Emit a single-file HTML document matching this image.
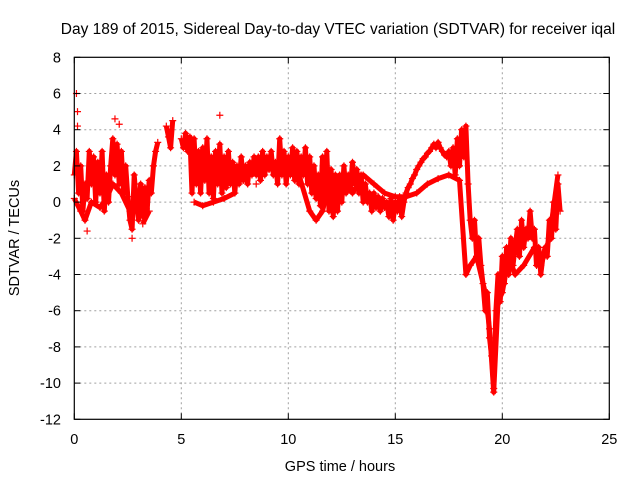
<!DOCTYPE html>
<html><head><meta charset="utf-8"><style>
html,body{margin:0;padding:0;background:#fff;}
svg{display:block;font-family:"Liberation Sans",sans-serif;}
</style></head><body>
<svg id="chart" width="640" height="480">
<rect width="640" height="480" fill="#fff"/>
<text x="338" y="34" font-size="15.5" text-anchor="middle" fill="#000">Day 189 of 2015, Sidereal Day-to-day VTEC variation (SDTVAR) for receiver iqal</text>
<text x="340" y="471" font-size="14.5" text-anchor="middle">GPS time / hours</text>
<text transform="translate(19,238) rotate(-90)" font-size="14.5" text-anchor="middle">SDTVAR / TECUs</text>
<g id="grid"></g><g id="series"></g><g id="axes"></g>
</svg>
<script>
const xTicks=[0,5,10,15,20,25];
const yTicks=[8,6,4,2,0,-2,-4,-6,-8,-10,-12];
const hoursA=[0.0,0.1,0.2,0.3,0.4,0.5,0.6,0.7,0.8,0.9,1.0,1.1,1.2,1.3,1.4,1.5,1.6,1.7,1.8,1.9,2.0,2.1,2.2,2.3,2.4,2.5,2.6,2.7,2.8,2.9,3.0,3.1,3.2,3.3,3.4,3.5,3.6,3.7,3.8,3.9,
4.3,4.4,4.5,4.6,
5.0,5.1,5.2,5.3,5.4,5.5,5.6,5.7,5.8,5.9,6.0,6.1,6.2,6.3,6.4,6.5,6.6,6.7,6.8,6.9,7.0,7.1,7.2,7.3,7.4,7.5,7.6,7.7,7.8,7.9,8.0,8.1,8.2,8.3,8.4,8.5,8.6,8.7,8.8,8.9,9.0,9.1,9.2,9.3,9.4,9.5,9.6,9.7,9.8,9.9,10.0,10.1,10.2,10.3,10.4,10.5,10.6,10.7,10.8,10.9,11.0,11.1,11.2,11.3,11.4,11.5,11.6,11.7,11.8,11.9,12.0,12.1,12.2,12.3,12.4,12.5,12.6,12.7,12.8,12.9,13.0,13.1,13.2,13.3,13.4,13.5,13.6,13.7,13.8,13.9,14.0,14.1,14.2,14.3,14.4,14.5,14.6,14.7,14.8,14.9,15.0,15.1,15.2,15.3,15.4,15.5,15.6,15.7,15.8,15.9,16.0,16.1,16.2,16.3,16.4,16.5,16.6,16.7,16.8,16.9,17.0,17.1,17.2,17.3,17.4,17.5,17.6,17.7,17.8,17.9,18.0,18.1,18.2,18.3,18.4,18.5,18.6,18.7,18.8,18.9,19.0,19.1,19.2,19.3,19.4,19.5,19.6,19.7,19.8,19.9,20.0,20.1,20.2,20.3,20.4,20.5,20.6,20.7,20.8,20.9,21.0,21.1,21.2,21.3,21.4,21.5,21.6,21.7,21.8,21.9,22.0,22.1,22.2,22.3,22.4,22.5,22.6,22.7];
const valuesA=[1.5,2.8,0.5,2.0,-0.5,1.0,0.2,2.8,1.0,2.5,0.0,2.2,0.5,2.8,-0.5,1.5,0.0,2.0,3.5,1.5,3.2,1.0,2.8,0.5,2.0,0.3,-1.0,-1.5,1.5,0.0,-1.0,1.0,-0.8,0.8,-0.5,1.2,0.5,2.0,2.8,3.3,
4.2,3.6,3.0,4.5,
3.5,3.0,3.8,2.8,3.6,0.5,3.5,1.0,2.8,0.5,3.0,1.2,3.5,0.5,2.5,0.2,2.8,1.0,3.2,0.5,2.5,0.8,2.8,1.0,2.2,0.5,2.0,1.0,2.5,1.2,2.0,1.0,2.2,1.5,2.5,1.5,2.5,1.2,2.8,1.5,2.5,1.8,2.8,1.5,2.2,1.0,3.5,1.5,2.8,1.0,2.5,1.5,3.0,1.2,2.8,1.0,2.5,1.5,3.0,1.0,2.5,0.5,2.0,0.2,1.5,-0.2,2.5,0.0,2.8,-0.5,1.8,-0.8,1.5,-0.5,1.5,0.0,2.0,0.5,1.5,0.8,2.2,1.0,1.8,0.5,1.5,0.0,1.0,0.0,0.5,-0.5,0.5,-0.3,0.3,-0.5,0.2,-0.3,0.0,-0.8,0.2,-1.0,0.0,-0.5,0.3,-0.8,0.0,0.5,0.8,1.0,1.3,1.5,1.8,2.0,2.2,2.4,2.5,2.7,2.8,3.0,3.2,3.0,3.3,3.0,2.8,2.6,2.5,2.8,2.0,3.0,1.5,3.5,2.0,4.0,2.5,4.2,1.0,-1.0,-2.0,-1.0,-3.0,-2.0,-3.5,-4.5,-6.0,-5.0,-7.5,-8.5,-10.3,-6.0,-4.0,-5.5,-3.0,-4.5,-2.5,-4.0,-2.0,-3.5,-2.5,-1.5,-3.0,-1.0,-2.5,-1.5,-2.0,-0.5,-2.0,-1.5,-3.5,-2.5,-4.0,-3.0,-2.5,-3.0,-1.0,-2.0,0.0,-1.5,1.0,-0.5];
const hoursB=[0.0,0.3,0.5,0.8,1.2,1.5,1.8,2.2,2.6,3.2,3.5,5.6,6.0,6.5,7.0,7.5,8.5,9.5,10.5,11.0,11.3,11.6,12.0,12.5,13.0,13.5,14.0,14.5,15.0,15.5,16.0,16.5,17.0,17.5,18.0,18.3,18.5,18.8,19.2,19.4,19.6,19.8,20.0,20.3,20.6,21.0,21.5,21.8,22.2,22.6];
const valuesB=[0.2,-0.5,-1.0,0.0,-0.3,0.2,1.0,0.5,-0.5,-1.2,-0.5,0.0,-0.2,0.0,0.2,0.5,1.0,1.5,1.5,-0.5,-1.0,-0.5,1.5,1.2,0.5,1.5,1.0,0.5,0.3,0.3,0.5,1.0,1.3,1.5,1.2,-4.0,-3.5,-3.0,-5.0,-7.0,-10.5,-5.5,-5.0,-3.0,-4.0,-3.5,-2.5,-3.5,-2.0,1.5];
const hoursC=[0.1,0.15,0.15,6.8,0.6,2.7,1.9,2.1];
const valuesC=[6.0,5.0,4.2,4.8,-1.6,-2.0,4.6,4.3];

const X0=74.3,X1=609.3,Y0=57.3,Y1=419.3;
const xs=v=>X0+(v-0)/25*(X1-X0);
const ys=v=>Y0+(8-v)/20*(Y1-Y0);
const NS="http://www.w3.org/2000/svg";
function mk(tag,attrs,parent){const e=document.createElementNS(NS,tag);for(const k in attrs)e.setAttribute(k,attrs[k]);parent.appendChild(e);return e;}
const grid=document.getElementById('grid'),axes=document.getElementById('axes'),ser=document.getElementById('series');
xTicks.forEach(t=>{
 const x=xs(t);
 if(t>0&&t<25){const g=mk('line',{x1:x,x2:x,y1:Y0,y2:Y1,stroke:'#a0a0a0','stroke-dasharray':'2,3'},grid);
 
 }
 mk('line',{x1:x,x2:x,y1:Y1,y2:Y1-6,stroke:'#000'},axes);
 mk('line',{x1:x,x2:x,y1:Y0,y2:Y0+6,stroke:'#000'},axes);
 const l=mk('text',{x:x,y:444,'font-size':14.5,'text-anchor':'middle'},axes);l.textContent=t;
 
 
});
yTicks.forEach(t=>{
 const y=ys(t);
 if(t<8&&t>-12){const g=mk('line',{x1:X0,x2:X1,y1:y,y2:y,stroke:'#a0a0a0','stroke-dasharray':'2,3'},grid);
 
 }
 mk('line',{x1:X0,x2:X0+6,y1:y,y2:y,stroke:'#000'},axes);
 mk('line',{x1:X1,x2:X1-6,y1:y,y2:y,stroke:'#000'},axes);
 const l=mk('text',{x:61,y:y+5,'font-size':14.5,'text-anchor':'end'},axes);l.textContent=t;
 
 
});
const fr=mk('rect',{x:X0,y:Y0,width:X1-X0,height:Y1-Y0,fill:'none',stroke:'#000','stroke-width':1.2},axes);


function drawSeries(hs,vs,name,lineW,gap){
 if(lineW){let d='';for(let i=0;i<hs.length;i++){const cmd=(i===0||hs[i]-hs[i-1]>gap)?'M':'L';d+=cmd+xs(hs[i]).toFixed(1)+','+ys(vs[i]).toFixed(1);}
 const p=mk('path',{d:d,fill:'none',stroke:'#ff0000','stroke-width':lineW,'stroke-linejoin':'round'},ser);
 
 }
 for(let i=0;i<hs.length;i++){const x=xs(hs[i]),y=ys(vs[i]);
 const m=mk('path',{d:`M${x-3.5},${y}h7M${x},${y-3.5}v7`,stroke:'#ff0000','stroke-width':1.2},ser);
 
 }
}
drawSeries(hoursA,valuesA,'series-main',5,0.25);
drawSeries(hoursB,valuesB,'series-secondary',5,0.5);
drawSeries(hoursC,valuesC,'series-outlier',0,0);
</script>
</body></html>
